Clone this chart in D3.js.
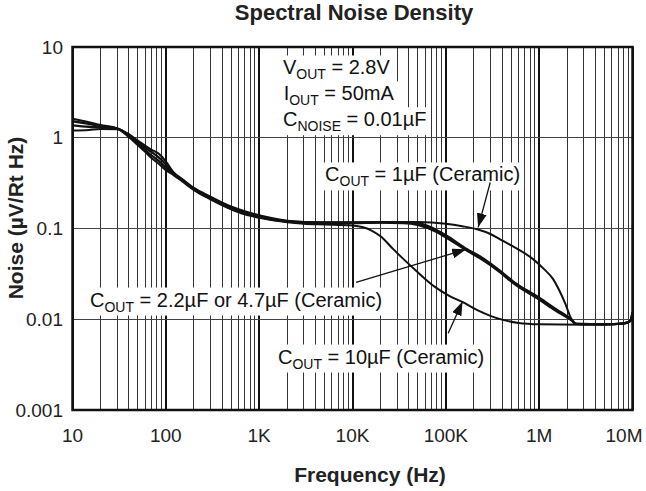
<!DOCTYPE html>
<html><head><meta charset="utf-8">
<script src="https://cdn.jsdelivr.net/npm/d3@7"></script>
<style>body{margin:0;background:#fff}text{font-family:"Liberation Sans",Arial,Helvetica,sans-serif}</style>
</head><body><svg id="c" width="646" height="491"></svg>
<script>
// ---- data ----
const xTickValues = [10, 100, 1e3, 1e4, 1e5, 1e6, 1e7];
const xTickLabels = ["10", "100", "1K", "10K", "100K", "1M", "10M"];
const yTickValues = [0.001, 0.01, 0.1, 1, 10];
const yTickLabels = ["0.001", "0.01", "0.1", "1", "10"];

const freqLow = [10,15,20,30,40,50,60,70,85,100,120,150,200,300,500,700,1000,2000,3000,5000];

const freq1uF = freqLow.concat([1e4,2e4,5e4,1e5,1.5e5,2.16e5,3e5,3.82e5,5.3e5,8.6e5,1.15e6,1.4e6,1.6e6,1.9e6,2.2e6,2.45e6,3e6,5e6,8e6,9.5e6,1e7]);
const noise1uF = [1.62,1.48,1.38,1.27,1.1,0.93,0.82,0.74,0.66,0.55,0.42,0.35,0.28,0.225,0.175,0.155,0.14,0.122,0.118,0.117,
  0.117,0.118,0.118,0.113,0.106,0.098,0.087,0.076,0.063,0.046,0.035,0.028,0.022,0.015,0.0102,0.0089,0.0088,0.0088,0.009,0.0097,0.012];

const freq2u2F = freqLow.concat([1e4,2e4,4e4,5.5e4,8.1e4,1e5,1.69e5,2.33e5,3.82e5,5.28e5,1e6,1.5e6,2.2e6,2.5e6,5e6,8e6,9.5e6,1e7]);
const noise2u2F = [1.52,1.42,1.35,1.27,1.08,0.9,0.78,0.7,0.6,0.51,0.41,0.345,0.275,0.22,0.17,0.15,0.137,0.12,0.117,0.116,
  0.116,0.117,0.117,0.112,0.095,0.084,0.059,0.049,0.034,0.026,0.0172,0.013,0.0100,0.0089,0.0088,0.009,0.0096,0.0118];

const freq4u7F = freqLow.concat([1e4,2e4,3.5e4,5e4,8.1e4,1e5,1.69e5,2.33e5,3.82e5,5.28e5,1e6,1.5e6,2.2e6,2.5e6,5e6,8e6,9.5e6,1e7]);
const noise4u7F = [1.37,1.32,1.3,1.26,1.05,0.86,0.73,0.64,0.55,0.47,0.4,0.34,0.27,0.215,0.167,0.147,0.134,0.119,0.116,0.115,
  0.115,0.116,0.115,0.11,0.091,0.08,0.057,0.047,0.033,0.025,0.0165,0.0125,0.0098,0.0089,0.0088,0.009,0.0096,0.0118];

const freq10uF = freqLow.concat([1e4,1.3e4,1.6e4,2e4,2.7e4,3.3e4,5e4,7.5e4,1.1e5,1.5e5,2.2e5,3e5,4e5,6e5,1e6,3e6,8e6,9.5e6,1e7]);
const noise10uF = [1.2,1.22,1.25,1.24,1.02,0.83,0.7,0.6,0.51,0.44,0.39,0.33,0.265,0.21,0.163,0.143,0.131,0.117,0.113,0.111,
  0.108,0.103,0.095,0.082,0.06,0.049,0.033,0.023,0.018,0.0155,0.0125,0.0109,0.0099,0.0091,0.0088,0.0087,0.0089,0.0095,0.0115];

// annotation anchors in data units [freq, noise]
const condLabels = [
  {at:[1800, 4.98], parts:[["V",0],["OUT",1],[" = 2.8V",0]]},
  {at:[1830, 2.58], parts:[["I",0],["OUT",1],[" = 50mA",0]]},
  {at:[1800, 1.34], parts:[["C",0],["NOISE",1],[" = 0.01µF",0]]},
  {at:[5080, 0.33], parts:[["C",0],["OUT",1],[" = 1µF (Ceramic)",0]]},
  {at:[15.4, 0.0138], parts:[["C",0],["OUT",1],[" = 2.2µF or 4.7µF (Ceramic)",0]]},
  {at:[1590, 0.00325], parts:[["C",0],["OUT",1],[" = 10µF (Ceramic)",0]]}
];
const arrows = [
  {from:[2.99e5, 0.321], to:[2.22e5, 0.103]},
  {from:[1.09e4, 0.0255], to:[1.65e5, 0.0589]},
  {from:[1.06e5, 0.0070], to:[1.51e5, 0.0157]}
];

// ---- chart ----
const svg = d3.select("#c");
const L = 72.5, R = 632.5, T = 47, B = 410;
const x = d3.scaleLog().domain([10, 1e7]).range([L, R]);
const y = d3.scaleLog().domain([0.001, 10]).range([B, T]);

svg.append("defs").append("marker").attr("id","ah").attr("viewBox","0 0 14 10")
  .attr("refX",14).attr("refY",5).attr("markerWidth",14).attr("markerHeight",10)
  .attr("markerUnits","userSpaceOnUse").attr("orient","auto")
  .append("path").attr("d","M0,0L14,5L0,10Z").attr("fill","#111");

// grid
const minor = [];
for (let d = 10; d < 1e7; d *= 10) for (let k = 2; k <= 9; k++) minor.push(d*k);
const grid = svg.append("g").attr("shape-rendering", "crispEdges");
grid.selectAll("line.vmin").data(minor).join("line")
  .attr("x1", d => x(d)).attr("x2", d => x(d)).attr("y1", T).attr("y2", B)
  .attr("stroke", "#333").attr("stroke-width", 1);
grid.selectAll("line.vmaj").data(xTickValues).join("line")
  .attr("x1", d => x(d)).attr("x2", d => x(d)).attr("y1", T).attr("y2", B)
  .attr("stroke", "#111").attr("stroke-width", 2);
grid.selectAll("line.h").data(yTickValues).join("line")
  .attr("x1", L).attr("x2", R).attr("y1", d => y(d)).attr("y2", d => y(d))
  .attr("stroke", "#444").attr("stroke-width", 1);

// labels with white backgrounds
const lg = svg.append("g");
condLabels.forEach(c => {
  const g = lg.append("g");
  const t = g.append("text").attr("x", x(c.at[0])).attr("y", y(c.at[1]))
    .attr("font-size", 20).attr("fill", "#111");
  let sub = false;
  c.parts.forEach(p => {
    const ts = t.append("tspan").text(p[0]);
    if (p[1] && !sub) { ts.attr("font-size", 14).attr("dy", 5); sub = true; }
    else if (!p[1] && sub) { ts.attr("dy", -5); sub = false; }
  });
  const bb = t.node().getBBox();
  g.insert("rect", "text").attr("x", bb.x - 4).attr("y", bb.y - 1)
    .attr("width", bb.width + 8).attr("height", bb.height + 2).attr("fill", "#fff");
});

// curves
const line = d3.line().x(d => x(d[0])).y(d => y(d[1])).curve(d3.curveMonotoneX);
const series = [
  [freq1uF, noise1uF, 2], [freq2u2F, noise2u2F, 2.4], [freq4u7F, noise4u7F, 2.4], [freq10uF, noise10uF, 2]
];
svg.append("g").selectAll("path").data(series).join("path")
  .attr("d", s => line(s[0].map((f, i) => [f, s[1][i]])))
  .attr("fill", "none").attr("stroke", "#111").attr("stroke-width", s => s[2])
  .attr("stroke-linejoin", "round");

// arrows
svg.append("g").selectAll("line").data(arrows).join("line")
  .attr("x1", a => x(a.from[0])).attr("y1", a => y(a.from[1]))
  .attr("x2", a => x(a.to[0])).attr("y2", a => y(a.to[1]))
  .attr("stroke", "#111").attr("stroke-width", 1.3).attr("marker-end", "url(#ah)");

// border
svg.append("rect").attr("x", L).attr("y", T).attr("width", R - L).attr("height", B - T)
  .attr("fill", "none").attr("stroke", "#111").attr("stroke-width", 2.5);

// tick labels
svg.append("g").selectAll("text").data(yTickValues).join("text")
  .attr("x", 63).attr("y", d => y(d)).attr("dy", "0.35em").attr("text-anchor", "end")
  .attr("font-size", 19).attr("fill", "#222").text((d, i) => yTickLabels[i]);
svg.append("g").selectAll("text").data(xTickValues).join("text")
  .attr("x", d => Math.min(x(d), 646 - 22)).attr("y", 442).attr("text-anchor", "middle")
  .attr("font-size", 19).attr("fill", "#222").text((d, i) => xTickLabels[i]);

// titles
svg.append("text").attr("x", 354).attr("y", 20).attr("text-anchor", "middle")
  .attr("font-size", 22).attr("font-weight", "bold").attr("fill", "#222").text("Spectral Noise Density");
svg.append("text").attr("x", 370).attr("y", 482).attr("text-anchor", "middle")
  .attr("font-size", 21).attr("font-weight", "bold").attr("fill", "#222").text("Frequency (Hz)");
svg.append("text").attr("transform", "translate(23,218) rotate(-90)").attr("text-anchor", "middle")
  .attr("font-size", 21).attr("font-weight", "bold").attr("fill", "#222").text("Noise (µV/Rt Hz)");
</script></body></html>
